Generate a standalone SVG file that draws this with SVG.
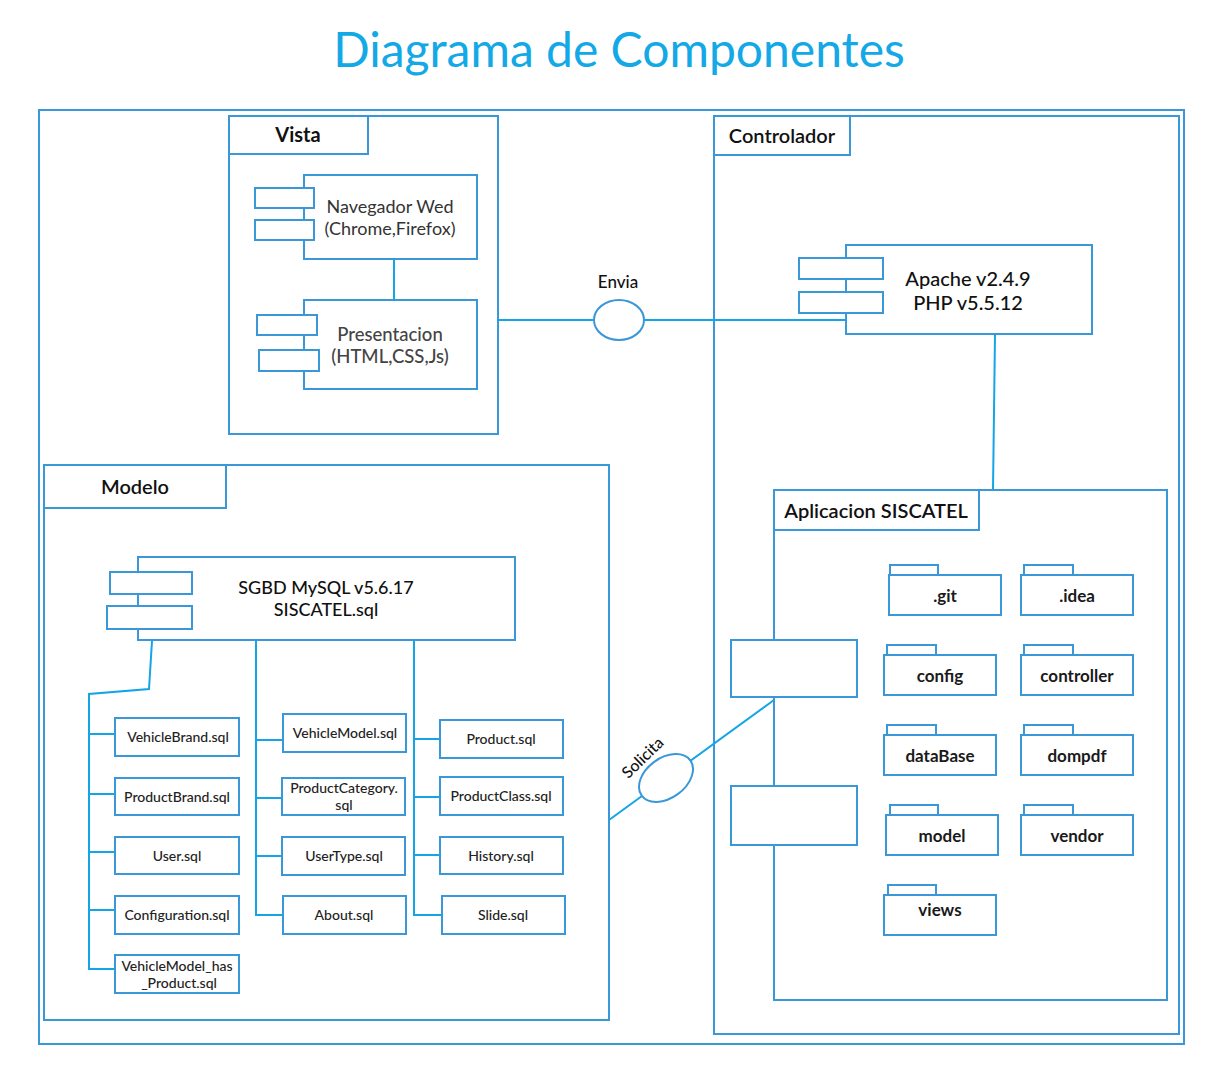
<svg xmlns="http://www.w3.org/2000/svg" width="1223" height="1077" viewBox="0 0 1223 1077">
<style>
.b{fill:#fff;stroke:#3a97d8;stroke-width:2}
.n{fill:none;stroke:#3a97d8;stroke-width:2}
.c{fill:none;stroke:#14a5e6;stroke-width:2}
text{font-family:Lato,"Open Sans","Liberation Sans",sans-serif;text-anchor:middle;fill:#111}
.t{font-size:20px;font-weight:700}
.m{font-size:20px;font-weight:500}
.s{font-size:14px;font-weight:500;fill:#222}
.f{font-size:17px;font-weight:700;fill:#1a1a1a}
</style>
<rect width="1223" height="1077" fill="#fff"/>
<text x="619" y="67" style="font-size:48px;font-weight:400;fill:#13a8e6">Diagrama de Componentes</text>
<rect class="n" x="39" y="110" width="1145" height="934"/>

<g id="vista">
<rect class="n" x="229" y="116" width="269" height="318"/>
<rect class="n" x="229" y="116" width="139" height="38"/>
<text class="t" x="298" y="142">Vista</text>
</g>
<g id="navegador">
<rect class="b" x="304" y="175" width="173" height="84"/>
<rect class="b" x="255" y="188" width="59" height="20"/>
<rect class="b" x="255" y="220" width="59" height="20"/>
<text x="390" y="213" style="font-size:18px;fill:#333">Navegador Wed</text>
<text x="390" y="235" style="font-size:18px;fill:#333">(Chrome,Firefox)</text>
</g>
<g id="presentacion">
<rect class="b" x="304" y="300" width="173" height="89"/>
<rect class="b" x="257" y="315" width="60" height="20"/>
<rect class="b" x="259" y="350" width="60" height="21"/>
<text x="390" y="341" style="font-size:18.5px;font-weight:500;fill:#444">Presentacion</text>
<text x="390" y="363" style="font-size:18.5px;font-weight:500;fill:#444">(HTML,CSS,Js)</text>
</g>

<g id="controlador">
<rect class="n" x="714" y="116" width="465" height="918"/>
<rect class="n" x="714" y="116" width="136" height="39"/>
<text class="t" x="782" y="143" style="font-weight:600">Controlador</text>
</g>

<g id="connectors">
<line class="c" x1="394" y1="259" x2="394" y2="300"/>
<line class="c" x1="498" y1="320" x2="846" y2="320"/>
<line class="c" x1="995" y1="334" x2="993" y2="490"/>
<line class="c" x1="609" y1="820" x2="774" y2="700"/>
<polyline class="c" points="152,641 149,689 89,694 89,969 115,969"/>
<line class="c" x1="89" y1="734" x2="115" y2="734"/>
<line class="c" x1="89" y1="794" x2="115" y2="794"/>
<line class="c" x1="89" y1="852" x2="115" y2="852"/>
<line class="c" x1="89" y1="910" x2="115" y2="910"/>
<polyline class="c" points="256,641 256,915 283,915"/>
<line class="c" x1="256" y1="740" x2="283" y2="740"/>
<line class="c" x1="256" y1="798" x2="282" y2="798"/>
<line class="c" x1="256" y1="856" x2="282" y2="856"/>
<polyline class="c" points="414,641 414,915 442,915"/>
<line class="c" x1="414" y1="739" x2="440" y2="739"/>
<line class="c" x1="414" y1="797" x2="440" y2="797"/>
<line class="c" x1="414" y1="855" x2="440" y2="855"/>
</g>

<g id="envia">
<ellipse cx="619" cy="320" rx="25" ry="20" fill="#fff" stroke="#3a97d8" stroke-width="2"/>
<text x="618" y="288" style="font-size:17px;font-weight:500">Envia</text>
</g>

<g id="apache">
<rect class="b" x="846" y="245" width="246" height="89"/>
<rect class="b" x="799" y="258" width="84" height="21"/>
<rect class="b" x="799" y="292" width="84" height="21"/>
<text class="m" x="968" y="286">Apache v2.4.9</text>
<text class="m" x="968" y="310">PHP v5.5.12</text>
</g>

<g id="modelo">
<rect class="n" x="44" y="465" width="565" height="555"/>
<rect class="n" x="44" y="465" width="182" height="43"/>
<text class="t" x="135" y="494" style="font-weight:600">Modelo</text>
</g>
<g id="sgbd">
<rect class="b" x="138" y="557" width="377" height="83"/>
<rect class="b" x="110" y="572" width="82" height="22"/>
<rect class="b" x="107" y="606" width="85" height="23"/>
<text x="326" y="594" style="font-size:18px;font-weight:500">SGBD MySQL v5.6.17</text>
<text x="326" y="616" style="font-size:18px;font-weight:500">SISCATEL.sql</text>
</g>

<g id="vehiclebrand"><rect class="b" x="115" y="718" width="124" height="38"/><text class="s" x="178" y="742">VehicleBrand.sql</text></g>
<g id="productbrand"><rect class="b" x="115" y="778" width="124" height="37"/><text class="s" x="177" y="802">ProductBrand.sql</text></g>
<g id="user"><rect class="b" x="115" y="837" width="124" height="37"/><text class="s" x="177" y="861">User.sql</text></g>
<g id="configuration"><rect class="b" x="115" y="896" width="124" height="38"/><text class="s" x="177" y="920">Configuration.sql</text></g>
<g id="vehiclemodelhas"><rect class="b" x="115" y="955" width="124" height="38"/><text class="s" x="177" y="971">VehicleModel_has</text><text class="s" x="179" y="988">_Product.sql</text></g>

<g id="vehiclemodel"><rect class="b" x="283" y="714" width="123" height="38"/><text class="s" x="345" y="738">VehicleModel.sql</text></g>
<g id="productcategory"><rect class="b" x="282" y="778" width="123" height="37"/><text class="s" x="344" y="793">ProductCategory.</text><text class="s" x="344" y="810">sql</text></g>
<g id="usertype"><rect class="b" x="282" y="837" width="123" height="38"/><text class="s" x="344" y="861">UserType.sql</text></g>
<g id="about"><rect class="b" x="283" y="896" width="123" height="38"/><text class="s" x="344" y="920">About.sql</text></g>

<g id="product"><rect class="b" x="440" y="720" width="123" height="38"/><text class="s" x="501" y="744">Product.sql</text></g>
<g id="productclass"><rect class="b" x="440" y="777" width="123" height="38"/><text class="s" x="501" y="801">ProductClass.sql</text></g>
<g id="history"><rect class="b" x="440" y="837" width="123" height="37"/><text class="s" x="501" y="861">History.sql</text></g>
<g id="slide"><rect class="b" x="442" y="896" width="123" height="38"/><text class="s" x="503" y="920">Slide.sql</text></g>

<g id="solicita">
<ellipse cx="666" cy="778" rx="30" ry="20" transform="rotate(-36 666 778)" fill="#fff" stroke="#3a97d8" stroke-width="2"/>
<text x="643" y="763" transform="rotate(-44 643 758)" style="font-size:16px;font-weight:500">Solicita</text>
</g>

<g id="aplicacion">
<rect class="n" x="774" y="490" width="393" height="510"/>
<rect class="n" x="774" y="490" width="205" height="40"/>
<text class="m" x="876" y="518" style="font-weight:600">Aplicacion SISCATEL</text>
<rect class="b" x="731" y="640" width="126" height="57"/>
<rect class="b" x="731" y="786" width="126" height="59"/>
</g>

<g id="git"><rect class="b" x="890" y="565" width="48" height="10"/><rect class="b" x="889" y="575" width="112" height="40"/><text class="f" x="945" y="602">.git</text></g>
<g id="idea"><rect class="b" x="1024" y="565" width="49" height="10"/><rect class="b" x="1021" y="575" width="112" height="40"/><text class="f" x="1077" y="602">.idea</text></g>
<g id="config"><rect class="b" x="887" y="645" width="49" height="10"/><rect class="b" x="884" y="655" width="112" height="40"/><text class="f" x="940" y="682">config</text></g>
<g id="controller"><rect class="b" x="1024" y="645" width="49" height="10"/><rect class="b" x="1021" y="655" width="112" height="40"/><text class="f" x="1077" y="682">controller</text></g>
<g id="database"><rect class="b" x="887" y="725" width="49" height="10"/><rect class="b" x="884" y="735" width="112" height="40"/><text class="f" x="940" y="762">dataBase</text></g>
<g id="dompdf"><rect class="b" x="1024" y="725" width="49" height="10"/><rect class="b" x="1021" y="735" width="112" height="40"/><text class="f" x="1077" y="762">dompdf</text></g>
<g id="model"><rect class="b" x="890" y="805" width="48" height="10"/><rect class="b" x="886" y="815" width="112" height="40"/><text class="f" x="942" y="842">model</text></g>
<g id="vendor"><rect class="b" x="1024" y="805" width="49" height="10"/><rect class="b" x="1021" y="815" width="112" height="40"/><text class="f" x="1077" y="842">vendor</text></g>
<g id="views"><rect class="b" x="888" y="885" width="48" height="10"/><rect class="b" x="884" y="895" width="112" height="40"/><text class="f" x="940" y="916">views</text></g>
</svg>
